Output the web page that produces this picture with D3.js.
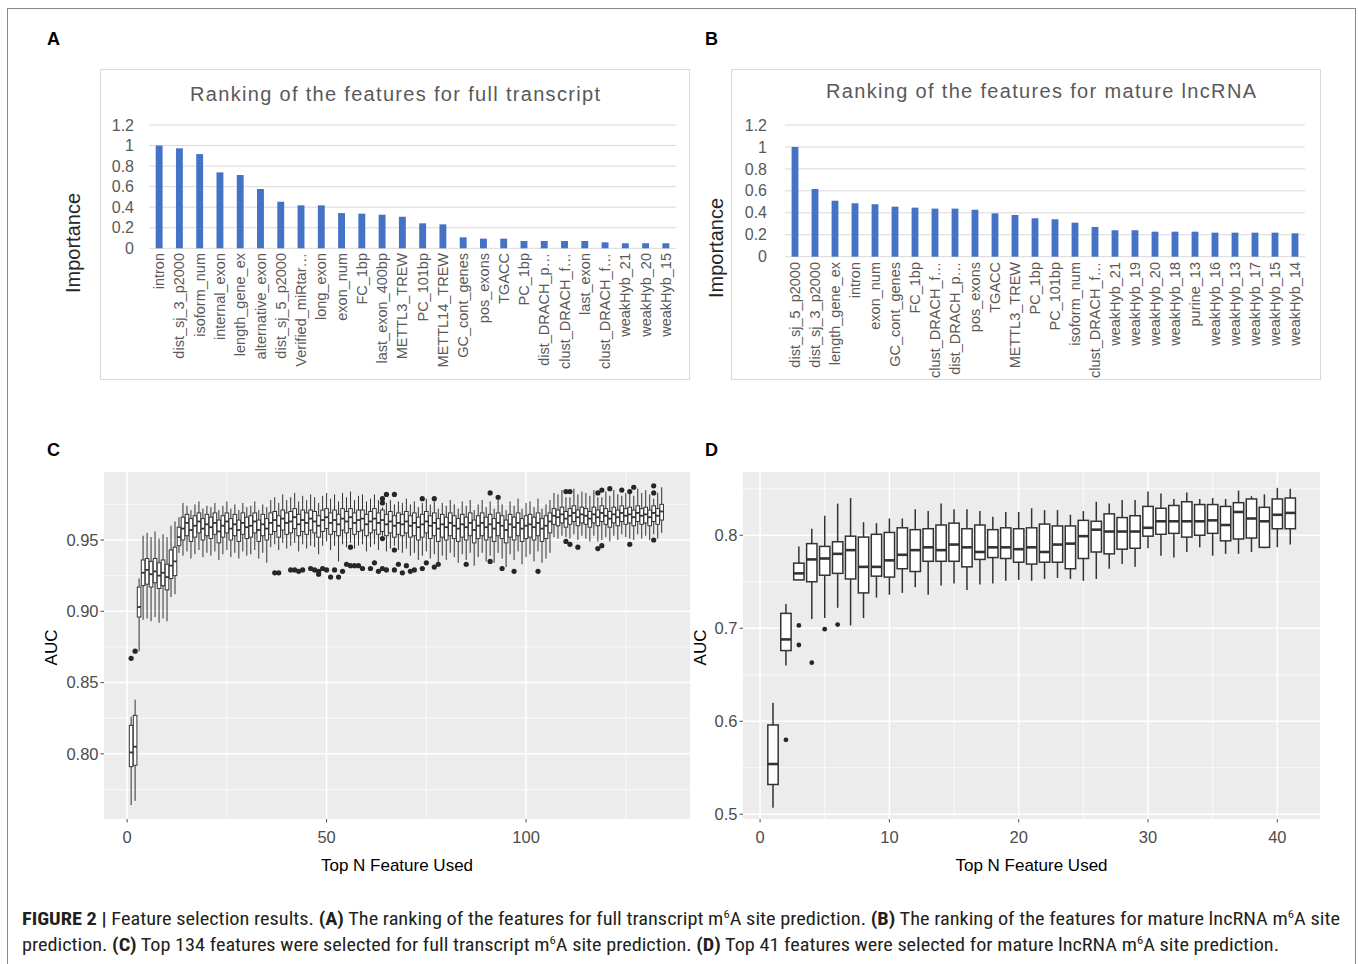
<!DOCTYPE html>
<html><head><meta charset="utf-8">
<script src="https://cdn.jsdelivr.net/npm/d3@7"></script>
<style>body{margin:0;background:#fff}svg{display:block}</style>
</head><body><svg id="fig" width="1358" height="964"></svg>
<script>
// ---------------- DATA ----------------
const aCats=["intron","dist_sj_3_p2000","isoform_num","internal_exon","length_gene_ex","alternative_exon","dist_sj_5_p2000","Verified_miRtar…","long_exon","exon_num","FC_1bp","last_exon_400bp","METTL3_TREW","PC_101bp","METTL14_TREW","GC_cont_genes","pos_exons","TGACC","PC_1bp","dist_DRACH_p…","clust_DRACH_f…","last_exon","clust_DRACH_f…","weakHyb_21","weakHyb_20","weakHyb_15"];
const aVals=[1.0,0.973,0.917,0.739,0.713,0.577,0.453,0.418,0.418,0.343,0.337,0.327,0.307,0.243,0.233,0.107,0.094,0.094,0.071,0.071,0.071,0.071,0.058,0.049,0.049,0.049];
const bCats=["dist_sj_5_p2000","dist_sj_3_p2000","length_gene_ex","intron","exon_num","GC_cont_genes","FC_1bp","clust_DRACH_f…","dist_DRACH_p…","pos_exons","TGACC","METTL3_TREW","PC_1bp","PC_101bp","isoform_num","clust_DRACH_f…","weakHyb_21","weakHyb_19","weakHyb_20","weakHyb_18","purine_13","weakHyb_16","weakHyb_13","weakHyb_17","weakHyb_15","weakHyb_14"];
const bVals=[1.0,0.617,0.51,0.487,0.478,0.456,0.447,0.438,0.438,0.428,0.395,0.38,0.35,0.341,0.31,0.271,0.241,0.241,0.228,0.228,0.228,0.219,0.219,0.219,0.219,0.213];
const barTicks=[0,0.2,0.4,0.6,0.8,1,1.2];
const barTickLabels=["0","0.2","0.4","0.6","0.8","1","1.2"];

// Panel C: 134 boxplots (n = 1..134)
const cMed=[.801,.805,.903,.927,.929,.926,.928,.925,.927,.924,
.932,.935,.952,.958,.962,.957,.960,.963,.958,.961,
.959,.962,.956,.960,.963,.958,.961,.957,.962,.959,
.960,.963,.957,.961,.958,.962,.964,.960,.965,.962,
.963,.966,.961,.964,.962,.965,.963,.960,.964,.966,
.962,.964,.961,.965,.963,.966,.962,.964,.965,.961,
.963,.965,.962,.964,.961,.963,.960,.962,.961,.963,
.960,.962,.959,.961,.963,.960,.962,.958,.961,.959,
.962,.960,.958,.961,.959,.962,.957,.960,.962,.959,
.961,.958,.962,.960,.957,.961,.959,.962,.958,.960,
.961,.959,.962,.958,.960,.963,.967,.966,.968,.965,
.967,.969,.966,.968,.967,.965,.968,.966,.969,.967,
.965,.968,.966,.969,.967,.968,.966,.969,.967,.968,
.966,.969,.967,.970];
const cQ1=[.791,.792,.896,.918,.919,.917,.920,.916,.918,.915,
.923,.925,.946,.950,.953,.949,.952,.955,.950,.953,
.951,.954,.948,.952,.955,.950,.953,.949,.954,.951,
.952,.955,.949,.953,.950,.954,.956,.952,.957,.954,
.955,.958,.953,.956,.954,.957,.955,.952,.956,.958,
.954,.956,.953,.957,.955,.958,.954,.956,.957,.953,
.955,.957,.954,.956,.953,.955,.952,.954,.953,.955,
.952,.953,.950,.952,.955,.951,.953,.949,.952,.950,
.953,.951,.949,.952,.950,.953,.948,.951,.953,.950,
.952,.949,.953,.951,.948,.952,.950,.953,.949,.951,
.952,.950,.953,.949,.951,.955,.961,.960,.962,.959,
.961,.963,.960,.962,.961,.959,.962,.960,.963,.961,
.959,.962,.960,.963,.961,.962,.960,.963,.961,.962,
.960,.963,.961,.964];
const cQ3=[.820,.827,.917,.936,.937,.935,.937,.934,.936,.933,
.943,.945,.959,.966,.968,.965,.967,.969,.965,.968,
.966,.969,.964,.967,.969,.965,.968,.964,.969,.966,
.967,.969,.964,.968,.965,.969,.970,.967,.971,.969,
.970,.972,.968,.971,.969,.971,.970,.967,.971,.972,
.969,.971,.968,.972,.970,.972,.969,.971,.971,.968,
.970,.972,.969,.971,.968,.970,.967,.969,.968,.970,
.967,.969,.966,.968,.970,.967,.969,.965,.968,.966,
.969,.967,.965,.968,.966,.969,.964,.967,.969,.966,
.968,.965,.969,.967,.964,.968,.966,.969,.965,.967,
.968,.966,.969,.965,.967,.969,.972,.971,.973,.970,
.972,.974,.971,.973,.972,.970,.973,.971,.974,.972,
.970,.973,.971,.974,.972,.973,.971,.974,.972,.973,
.971,.974,.972,.975];
const cLo=[.764,.767,.872,.894,.895,.893,.896,.892,.895,.893,
.910,.912,.941,.939,.942,.937,.940,.943,.938,.941,
.939,.942,.936,.940,.943,.938,.941,.937,.942,.939,
.940,.943,.937,.941,.934,.945,.947,.943,.948,.944,
.946,.948,.942,.947,.944,.946,.945,.940,.946,.949,
.943,.946,.935,.947,.945,.948,.944,.946,.947,.942,
.945,.947,.943,.953,.942,.944,.946,.943,.941,.944,
.939,.941,.936,.939,.942,.937,.940,.933,.939,.936,
.941,.938,.934,.940,.936,.941,.932,.938,.941,.935,
.939,.934,.941,.937,.931,.940,.936,.942,.933,.938,
.940,.935,.942,.934,.937,.941,.952,.951,.953,.952,
.951,.954,.950,.953,.951,.949,.953,.949,.950,.952,
.949,.953,.950,.954,.952,.951,.950,.954,.951,.953,
.950,.954,.951,.955];
const cHi=[.826,.838,.923,.953,.955,.952,.956,.951,.954,.952,
.960,.963,.966,.976,.974,.971,.975,.977,.972,.974,
.973,.976,.971,.974,.977,.972,.975,.971,.976,.973,
.974,.977,.971,.975,.973,.978,.980,.976,.982,.978,
.980,.983,.977,.981,.978,.982,.980,.976,.981,.983,
.979,.982,.977,.983,.980,.984,.978,.981,.982,.977,
.979,.982,.978,.973,.976,.978,.975,.977,.976,.979,
.975,.977,.973,.976,.979,.975,.977,.972,.976,.974,
.978,.975,.972,.977,.974,.978,.971,.975,.978,.973,
.977,.972,.978,.975,.971,.977,.974,.979,.972,.976,
.977,.973,.979,.972,.975,.978,.983,.982,.985,.980,
.980,.986,.982,.984,.983,.981,.985,.980,.980,.984,
.981,.985,.982,.981,.983,.985,.981,.986,.983,.985,
.982,.979,.983,.987];
const cOut=[[1,.867],[2,.872],[37,.927],[38,.927],[41,.929],[42,.929],[43,.928],[44,.929],[46,.930],[47,.929],[48,.928],[48,.926],[49,.930],[50,.929],[51,.924],[52,.929],[53,.924],[54,.928],[55,.933],[56,.932],[57,.932],[58,.932],[59,.930],[61,.930],[62,.934],[63,.928],[64,.930],[65,.929],[67,.929],[68,.933],[56,.945],[64,.976],[64,.979],[65,.982],[67,.982],[64,.951],[67,.943],[69,.927],[70,.932],[71,.928],[72,.929],[74,.930],[75,.934],[77,.931],[78,.933],[85,.933],[91,.935],[94,.930],[97,.928],[103,.928],[74,.979],[77,.979],[91,.983],[93,.980],[110,.984],[111,.984],[118,.983],[119,.985],[121,.986],[124,.985],[126,.984],[127,.987],[132,.988],[132,.983],[110,.949],[111,.947],[113,.945],[118,.944],[119,.946],[126,.947],[132,.950]];
const cYTicks=[0.80,0.85,0.90,0.95], cYLabels=["0.80","0.85","0.90","0.95"], cYMinor=[0.775,0.825,0.875,0.925,0.975];
const cXTicks=[0,50,100], cXMinor=[25,75,125];

// Panel D: 41 boxplots (n = 1..41)
const dMed=[.554,.688,.759,.774,.775,.780,.784,.766,.766,.773,.779,.784,.787,.784,.790,.787,.782,.787,.787,.785,.787,.782,.790,.791,.799,.806,.804,.804,.804,.808,.815,.815,.815,.815,.816,.811,.825,.818,.815,.822,.824];
const dQ1=[.532,.676,.752,.750,.757,.759,.753,.738,.756,.755,.764,.761,.772,.772,.772,.766,.774,.776,.775,.771,.769,.771,.771,.764,.775,.782,.780,.785,.786,.799,.801,.802,.798,.800,.802,.794,.796,.797,.787,.807,.807];
const dQ3=[.596,.716,.770,.791,.788,.793,.799,.798,.801,.803,.808,.806,.807,.811,.813,.807,.811,.806,.808,.807,.808,.812,.810,.810,.816,.815,.823,.819,.821,.831,.829,.832,.836,.833,.833,.831,.835,.839,.830,.839,.840];
const dLo=[.507,.660,.752,.710,.711,.722,.703,.711,.733,.736,.738,.744,.736,.746,.748,.741,.747,.748,.751,.752,.751,.753,.754,.753,.751,.753,.764,.769,.766,.786,.778,.776,.782,.787,.778,.780,.780,.782,.786,.787,.790];
const dHi=[.620,.726,.788,.807,.821,.834,.840,.814,.813,.818,.818,.828,.826,.834,.828,.828,.826,.820,.825,.825,.829,.827,.827,.822,.826,.836,.834,.838,.838,.847,.845,.839,.846,.839,.840,.839,.848,.842,.844,.851,.850];
const dOut=[[2,.580],[3,.703],[3,.682],[4,.663],[5,.699],[6,.704]];
const dYTicks=[0.5,0.6,0.7,0.8], dYLabels=["0.5","0.6","0.7","0.8"], dYMinor=[0.55,0.65,0.75,0.85];
const dXTicks=[0,10,20,30,40], dXMinor=[5,15,25,35];

// ---------------- DRAWING ----------------
const svg=d3.select('#fig');
const SANS='"Liberation Sans", Arial, Helvetica, sans-serif';

svg.append('rect').attr('x',7.5).attr('y',8.5).attr('width',1348).attr('height',990)
  .attr('fill','none').attr('stroke','#8a8a8a').attr('stroke-width',1);

[["A",47,45],["B",705,45],["C",47,456],["D",705,456]].forEach(([t,x,y])=>{
  svg.append('text').attr('x',x).attr('y',y).text(t)
    .attr('font-family',SANS).attr('font-weight','bold').attr('font-size',18).attr('fill','#000');
});

function barChart(o){
  svg.append('rect').attr('x',o.bx+0.5).attr('y',o.by+0.5).attr('width',o.bw).attr('height',o.bh)
    .attr('fill','#fff').attr('stroke','#d9d9d9');
  const x=d3.scaleBand().domain(d3.range(o.cats.length)).range([o.x0,o.x1]).paddingInner(0.66).paddingOuter(0.33);
  const y=d3.scaleLinear().domain([0,1.2]).range([o.y0,o.y12]);
  const g=svg.append('g');
  g.selectAll('line.grid').data(barTicks).join('line')
    .attr('x1',o.x0).attr('x2',o.x1).attr('y1',d=>y(d)).attr('y2',d=>y(d))
    .attr('stroke','#d9d9d9').attr('stroke-width',1);
  g.selectAll('text.tick').data(barTicks).join('text')
    .attr('x',o.tickX).attr('y',d=>y(d)).attr('dy','0.35em').attr('text-anchor','end')
    .text((d,i)=>barTickLabels[i])
    .attr('font-family',SANS).attr('font-size',16).attr('fill','#595959');
  g.selectAll('rect.bar').data(o.vals).join('rect')
    .attr('x',(d,i)=>x(i)).attr('width',x.bandwidth())
    .attr('y',d=>y(d)).attr('height',d=>y(0)-y(d)).attr('fill','#4472C4');
  g.selectAll('text.cat').data(o.cats).join('text')
    .attr('transform',(d,i)=>`translate(${x(i)+x.bandwidth()/2},${o.labelTop}) rotate(-90)`)
    .attr('text-anchor','end').attr('dy','0.35em').text(d=>d)
    .attr('font-family',SANS).attr('font-size',14.5).attr('fill','#595959');
  svg.append('text').attr('x',o.titleX).attr('y',o.titleY).attr('text-anchor','middle')
    .attr('textLength',o.titleW).attr('lengthAdjust','spacing')
    .text(o.title).attr('font-family',SANS).attr('font-size',20).attr('fill','#595959');
  svg.append('text').attr('transform',`translate(${o.ytX},${o.ytY}) rotate(-90)`)
    .attr('text-anchor','middle').attr('dy','0.35em').text('Importance')
    .attr('font-family',SANS).attr('font-size',20).attr('fill','#262626');
}
barChart({cats:aCats,vals:aVals,bx:100,by:69,bw:589,bh:310,x0:149,x1:676,y0:248.3,y12:125,
  tickX:134,labelTop:253,title:'Ranking of the features for full transcript',titleX:395,titleY:101,titleW:410,ytX:73,ytY:243});
barChart({cats:bCats,vals:bVals,bx:731,by:69,bw:589,bh:310,x0:785,x1:1305,y0:256.7,y12:125,
  tickX:767,labelTop:262,title:'Ranking of the features for mature lncRNA',titleX:1041,titleY:98,titleW:430,ytX:716,ytY:248});

function boxPanel(o){
  const x=d3.scaleLinear().domain(o.xd).range([o.px0,o.px1]);
  const y=d3.scaleLinear().domain(o.yd).range([o.py1,o.py0]);
  const g=svg.append('g');
  g.append('rect').attr('x',o.px0).attr('y',o.py0).attr('width',o.px1-o.px0).attr('height',o.py1-o.py0).attr('fill','#ececec');
  g.selectAll('line.ymin').data(o.yMinor).join('line').attr('x1',o.px0).attr('x2',o.px1)
    .attr('y1',d=>y(d)).attr('y2',d=>y(d)).attr('stroke','#fff').attr('stroke-width',0.7);
  g.selectAll('line.xmin').data(o.xMinor).join('line').attr('y1',o.py0).attr('y2',o.py1)
    .attr('x1',d=>x(d)).attr('x2',d=>x(d)).attr('stroke','#fff').attr('stroke-width',0.7);
  g.selectAll('line.ymaj').data(o.yTicks).join('line').attr('x1',o.px0).attr('x2',o.px1)
    .attr('y1',d=>y(d)).attr('y2',d=>y(d)).attr('stroke','#fff').attr('stroke-width',1.5);
  g.selectAll('line.xmaj').data(o.xTicks).join('line').attr('y1',o.py0).attr('y2',o.py1)
    .attr('x1',d=>x(d)).attr('x2',d=>x(d)).attr('stroke','#fff').attr('stroke-width',1.5);
  // ticks + labels
  g.selectAll('line.yt').data(o.yTicks).join('line').attr('x1',o.px0-3.5).attr('x2',o.px0)
    .attr('y1',d=>y(d)).attr('y2',d=>y(d)).attr('stroke','#4d4d4d').attr('stroke-width',1);
  g.selectAll('text.yl').data(o.yTicks).join('text').attr('x',o.px0-5.5).attr('y',d=>y(d))
    .attr('dy','0.35em').attr('text-anchor','end').text((d,i)=>o.yLabels[i])
    .attr('font-family',SANS).attr('font-size',16.5).attr('fill','#4d4d4d');
  g.selectAll('line.xt').data(o.xTicks).join('line').attr('y1',o.py1).attr('y2',o.py1+3.5)
    .attr('x1',d=>x(d)).attr('x2',d=>x(d)).attr('stroke','#4d4d4d').attr('stroke-width',1);
  g.selectAll('text.xl').data(o.xTicks).join('text').attr('x',d=>x(d)).attr('y',o.py1+18)
    .attr('dy','0.35em').attr('text-anchor','middle').text(d=>d)
    .attr('font-family',SANS).attr('font-size',16.5).attr('fill','#4d4d4d');
  // boxes
  const hw=(x(o.bw)-x(0))/2;
  const idx=d3.range(o.med.length);
  const sc='#333333';
  g.selectAll('line.wu').data(idx).join('line').attr('x1',i=>x(i+1)).attr('x2',i=>x(i+1))
    .attr('y1',i=>y(o.hi[i])).attr('y2',i=>y(o.q3[i])).attr('stroke',sc).attr('stroke-width',o.lw);
  g.selectAll('line.wl').data(idx).join('line').attr('x1',i=>x(i+1)).attr('x2',i=>x(i+1))
    .attr('y1',i=>y(o.q1[i])).attr('y2',i=>y(o.lo[i])).attr('stroke',sc).attr('stroke-width',o.lw);
  g.selectAll('rect.box').data(idx).join('rect').attr('x',i=>x(i+1)-hw).attr('width',2*hw)
    .attr('y',i=>y(o.q3[i])).attr('height',i=>y(o.q1[i])-y(o.q3[i]))
    .attr('fill','#fff').attr('stroke',sc).attr('stroke-width',o.lw);
  g.selectAll('line.med').data(idx).join('line').attr('x1',i=>x(i+1)-hw).attr('x2',i=>x(i+1)+hw)
    .attr('y1',i=>y(o.med[i])).attr('y2',i=>y(o.med[i])).attr('stroke',sc).attr('stroke-width',o.mw);
  g.selectAll('circle.out').data(o.out).join('circle').attr('cx',d=>x(d[0])).attr('cy',d=>y(d[1]))
    .attr('r',o.r).attr('fill','#262626');
  svg.append('text').attr('x',(o.px0+o.px1)/2).attr('y',o.py1+46).attr('dy','0.35em').attr('text-anchor','middle')
    .text('Top N Feature Used').attr('font-family',SANS).attr('font-size',17).attr('fill','#000');
  svg.append('text').attr('transform',`translate(${o.ytX},${(o.py0+o.py1)/2+2}) rotate(-90)`)
    .attr('text-anchor','middle').attr('dy','0.35em').text('AUC')
    .attr('font-family',SANS).attr('font-size',17).attr('fill','#000');
}
boxPanel({xd:[-5.8,141.1],px0:104,px1:690,yd:[0.7543,0.9977],py0:472,py1:819,
  yTicks:cYTicks,yLabels:cYLabels,yMinor:cYMinor,xTicks:cXTicks,xMinor:cXMinor,
  med:cMed,q1:cQ1,q3:cQ3,lo:cLo,hi:cHi,out:cOut,bw:0.9,lw:1,mw:1.8,r:2.6,ytX:51});
boxPanel({xd:[-1.32,43.3],px0:743,px1:1320,yd:[0.4949,0.868],py0:472,py1:819,
  yTicks:dYTicks,yLabels:dYLabels,yMinor:dYMinor,xTicks:dXTicks,xMinor:dXMinor,
  med:dMed,q1:dQ1,q3:dQ3,lo:dLo,hi:dHi,out:dOut,bw:0.8,lw:1.5,mw:2.6,r:2.4,ytX:700});

// caption
const CAP='"Liberation Sans Narrow", "Arial Narrow", "Roboto Condensed", "Liberation Sans", sans-serif';
const cap1=[["FIGURE 2 |","b"],[" Feature selection results. ",""],["(A)","b"],[" The ranking of the features for full transcript m",""],["6","s"],["A site prediction. ",""],["(B)","b"],[" The ranking of the features for mature lncRNA m",""],["6","s"],["A site",""]];
const cap2=[["prediction. ",""],["(C)","b"],[" Top 134 features were selected for full transcript m",""],["6","s"],["A site prediction. ",""],["(D)","b"],[" Top 41 features were selected for mature lncRNA m",""],["6","s"],["A site prediction.",""]];
function capLine(segs,y,len){
  const t=svg.append('text').attr('x',22).attr('y',y).attr('font-family',CAP).attr('font-size',17.5)
    .attr('fill','#231f20').attr('textLength',len).attr('lengthAdjust','spacingAndGlyphs')
    .style('white-space','pre');
  let prevSup=false;
  segs.forEach(([s,k])=>{
    const ts=t.append('tspan').text(s);
    if(k==='b') ts.attr('font-weight','bold');
    if(k==='s'){ts.attr('font-size',11).attr('dy',-7);}
    else if(prevSup){ts.attr('dy',7);}
    prevSup=(k==='s');
  });
}
capLine(cap1,925,1318);
capLine(cap2,951,1257);
</script></body></html>
